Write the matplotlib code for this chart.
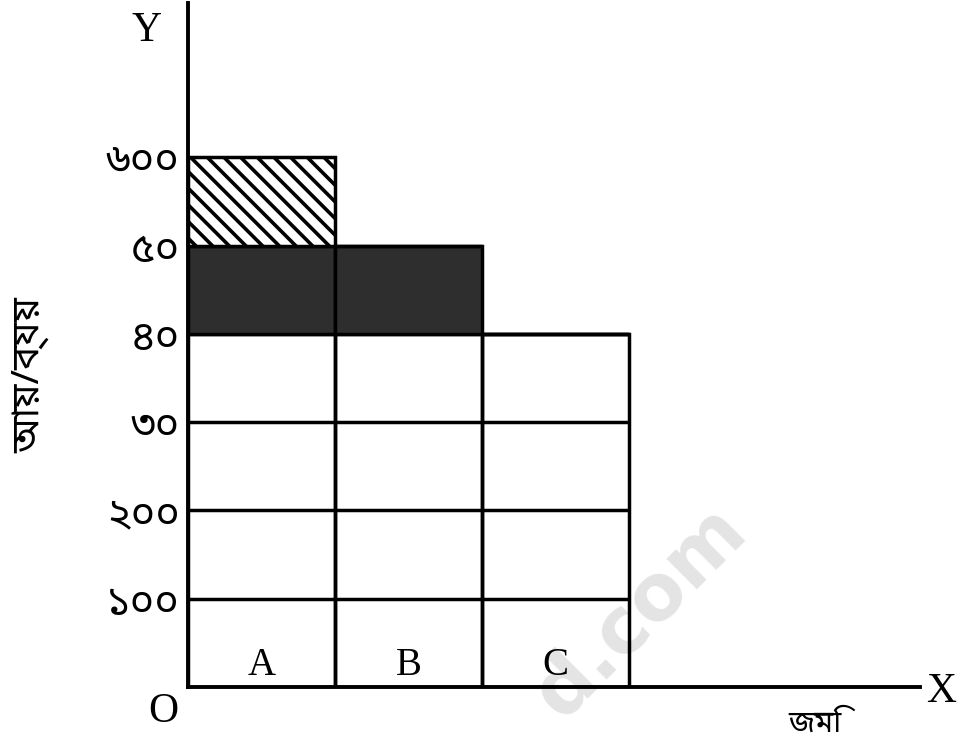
import matplotlib
matplotlib.use('Agg')
import matplotlib.pyplot as plt

plt.rcParams['hatch.linewidth'] = 2.6
plt.rcParams['hatch.color'] = 'black'

BN = ['Noto Sans Bengali', 'Noto Serif Bengali', 'Lohit Bengali', 'FreeSerif', 'Mukti Narrow', 'DejaVu Sans']
SERIF = ['Liberation Serif', 'DejaVu Serif']

# ---- data ----
categories = ['A', 'B', 'C']
cost = [400, 400, 400]          # white cells (cost)
rent_dark = [100, 100, 0]       # dark shaded band
rent_hatch = [100, 0, 0]        # hatched band
grid_levels = [100, 200, 300]
ytick_values = [100, 200, 300, 400, 500, 600]
ytick_labels = ['১০০', '২০০', '৩০', '৪০', '৫০', '৬০০']
y_title = 'আ\u09df/ব্য\u09df'
x_title = 'জমি'

W, H = 971, 752
fig = plt.figure(figsize=(W / 100, H / 100), dpi=100)
fig.patch.set_facecolor('white')

# watermark (behind everything)
fig.text(640 / W, 1 - 612 / H, 'd.com', rotation=45, fontsize=56, color='#e4e4e4',
         fontweight='bold', family='DejaVu Sans', ha='center', va='center', zorder=-5)

ax = fig.add_axes([188 / W, (H - 687) / H, 732 / W, 684 / H])
ax.patch.set_visible(False)
ax.set_xlim(0, 4.98)
ax.set_ylim(0, 775)

pos = [i + 0.5 for i in range(len(categories))]
lw = 2.5
ax.bar(pos, cost, width=1, facecolor='none', edgecolor='black', linewidth=lw, zorder=2)
dark_bottom = cost
ax.bar(pos, rent_dark, width=1, bottom=dark_bottom, facecolor='#2e2e2e',
       edgecolor='black', linewidth=lw, zorder=2)
hatch_bottom = [c + d for c, d in zip(cost, rent_dark)]
ax.bar(pos, rent_hatch, width=1, bottom=hatch_bottom, facecolor='white',
       edgecolor='black', hatch='\\\\', linewidth=lw, zorder=2)
ax.hlines(grid_levels, 0, len(categories), color='black', linewidth=lw, zorder=2)

for p, c in zip(pos, categories):
    ax.text(p, 14, c, ha='center', va='baseline', fontsize=28, family=SERIF, zorder=3)

for s in ['top', 'right']:
    ax.spines[s].set_visible(False)
for s in ['left', 'bottom']:
    ax.spines[s].set_linewidth(2.8)
    ax.spines[s].set_zorder(4)

ax.set_xticks([])
ax.set_yticks(ytick_values)
ax.set_yticklabels(ytick_labels, fontsize=30, family=BN, fontweight='bold')
ax.tick_params(axis='y', length=0, pad=6)

fig.text(147 / W, 1 - 31 / H, 'Y', fontsize=30, family=SERIF, ha='center', va='center')
fig.text(163 / W, 1 - 712 / H, 'O', fontsize=30, family=SERIF, ha='center', va='center')
fig.text(941 / W, 1 - 692 / H, 'X', fontsize=30, family=SERIF, ha='center', va='center')
fig.text(815 / W, 1 - 724 / H, x_title, fontsize=22, family=BN, ha='center', va='center')
fig.text(30 / W, 1 - 375 / H, y_title, fontsize=28, family=BN, fontweight='bold',
         rotation=90, ha='center', va='center')

fig.savefig('out.png', dpi=100)
